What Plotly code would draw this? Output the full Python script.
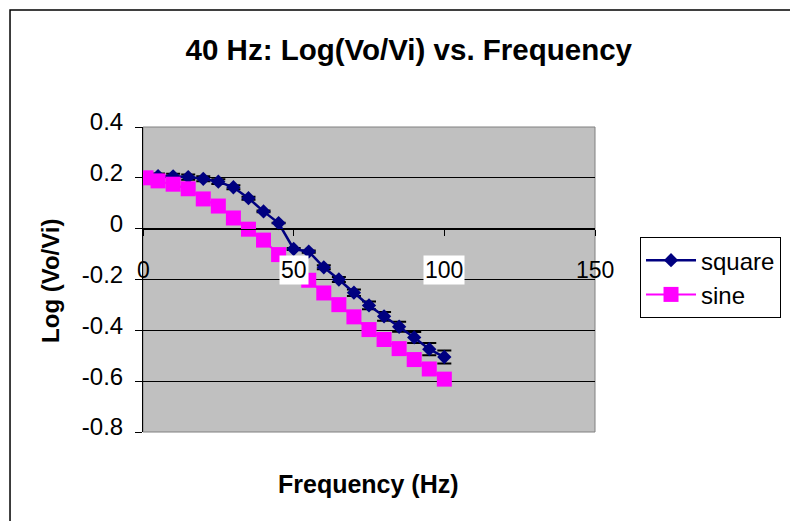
import plotly.graph_objects as go

# ---- data ----
freq = [1, 5, 10, 15, 20, 25, 30, 35, 40, 45, 50, 55, 60, 65, 70, 75, 80, 85, 90, 95, 100]
square = [0.200, 0.207, 0.206, 0.203, 0.196, 0.185, 0.163, 0.120, 0.068, 0.022,
          -0.080, -0.090, -0.152, -0.200, -0.252, -0.302, -0.345, -0.386, -0.428, -0.474, -0.505]
sine = [0.200, 0.188, 0.175, 0.157, 0.117, 0.089, 0.042, -0.002, -0.045, -0.102,
        -0.160, -0.203, -0.253, -0.299, -0.347, -0.397, -0.436, -0.472, -0.515, -0.552, -0.592]
square_err_pct = 5
x_ticks = [0, 50, 100, 150]
y_ticks = [0.4, 0.2, 0, -0.2, -0.4, -0.6, -0.8]
y_labels = ["0.4", "0.2", "0", "-0.2", "-0.4", "-0.6", "-0.8"]
title = "40 Hz: Log(Vo/Vi) vs. Frequency"
x_title = "Frequency (Hz)"
y_title = "Log (Vo/Vi)"

FONT = "Liberation Sans, Arial, sans-serif"
xmin, xmax = 0, 150
ymin, ymax = -0.8, 0.4

fig = go.Figure()
fig.add_trace(go.Scatter(
    x=freq, y=square, name="square", mode="lines+markers",
    line=dict(color="#000080", width=2.5),
    marker=dict(symbol="diamond", size=11, color="#000080"),
    error_y=dict(type="percent", value=square_err_pct, color="black", thickness=2, width=7),
))
fig.add_trace(go.Scatter(
    x=freq, y=sine, name="sine", mode="lines+markers",
    line=dict(color="#FF00FF", width=2),
    marker=dict(symbol="square", size=15, color="#FF00FF"),
))

# x tick labels (placed below the axis line that crosses at y=0)
annotations = []
for t in x_ticks:
    inside = xmin < t < xmax
    annotations.append(dict(
        x=t, y=-0.164, xref="x", yref="y", text=str(t), showarrow=False,
        font=dict(family=FONT, size=23, color="black"),
        bgcolor="white" if inside else "rgba(0,0,0,0)", borderpad=1,
        xanchor="center", yanchor="middle",
    ))
annotations.append(dict(
    x=0.498, y=-0.17, xref="paper", yref="paper", text="<b>%s</b>" % x_title,
    showarrow=False, font=dict(family=FONT, size=25, color="black"),
    xanchor="center", yanchor="middle",
))
annotations.append(dict(
    x=-0.206, y=0.495, xref="paper", yref="paper", text="<b>%s</b>" % y_title,
    showarrow=False, textangle=-90, font=dict(family=FONT, size=24, color="black"),
    xanchor="center", yanchor="middle",
))

fig.update_layout(
    width=790, height=521,
    margin=dict(l=143, r=195, t=127, b=89, autoexpand=False),
    paper_bgcolor="white", plot_bgcolor="#C0C0C0",
    font=dict(family=FONT, color="black"),
    title=dict(text="<b>%s</b>" % title, x=0.588, xref="paper", xanchor="center",
               y=1 - 50 / 521, yref="container", yanchor="middle",
               font=dict(family=FONT, size=29.5, color="black")),
    xaxis=dict(range=[xmin, xmax], anchor="free", position=(0 - ymin) / (ymax - ymin),
               showline=True, linecolor="black", linewidth=1,
               ticks="outside", ticklen=6, tickcolor="black", tickvals=x_ticks,
               showticklabels=False, showgrid=False, zeroline=False),
    yaxis=dict(range=[ymin, ymax], tickvals=y_ticks, ticktext=y_labels,
               showgrid=True, gridcolor="black", gridwidth=1,
               showline=True, linecolor="black", linewidth=1,
               ticks="outside", ticklen=7, tickcolor="black",
               zeroline=False, tickfont=dict(family=FONT, size=24, color="black"),
               ticklabelstandoff=7, ticklabelshift=-5),
    legend=dict(x=1.0996, y=0.639, xanchor="left", yanchor="top",
                bgcolor="white", bordercolor="black", borderwidth=1,
                itemwidth=50, tracegroupgap=0,
                font=dict(family=FONT, size=24, color="black")),
    annotations=annotations,
    shapes=[
        dict(type="rect", xref="paper", yref="paper", x0=0, x1=1, y0=0, y1=1,
             line=dict(color="#808080", width=1), layer="below"),
        dict(type="rect", xref="paper", yref="paper", x0=-0.2942, x1=1.46,
             y0=-0.32, y1=1.3836, line=dict(color="black", width=1.5)),
    ],
    showlegend=True,
)

fig.write_html("out.html")
